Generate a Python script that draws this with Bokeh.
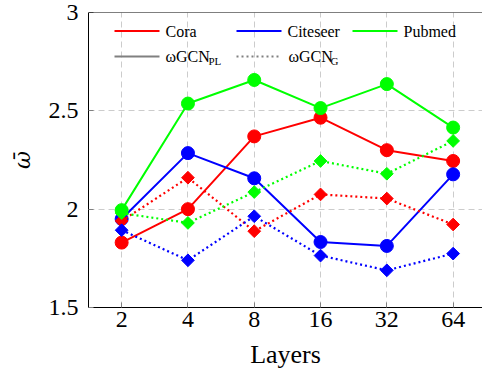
import numpy as np
from bokeh.plotting import figure
from bokeh.models import (Range1d, FixedTicker, NumeralTickFormatter, Span,
                          Label, Arrow)
from bokeh.embed import file_html
from bokeh.resources import INLINE

# ---- data ----
layers = [2, 4, 8, 16, 32, 64]
y_ticks = [1.5, 2, 2.5, 3]

cora_pl = [1.83, 2.00, 2.37, 2.465, 2.30, 2.245]
citeseer_pl = [1.95, 2.285, 2.157, 1.833, 1.813, 2.177]
pubmed_pl = [1.995, 2.537, 2.657, 2.514, 2.636, 2.415]

cora_g = [1.94, 2.16, 1.888, 2.075, 2.054, 1.922]
citeseer_g = [1.893, 1.74, 1.964, 1.764, 1.689, 1.774]
pubmed_g = [1.98, 1.93, 2.087, 2.245, 2.18, 2.347]

datasets = ["Cora", "Citeseer", "Pubmed"]
colors = ["#ff0000", "#0000ff", "#00ff00"]

FONT = "Liberation Serif"

p = figure(width=482, height=377, output_backend="svg", toolbar_location=None,
           x_axis_type="log", x_range=Range1d(2 ** 0.5, 2 ** 6.443),
           y_range=Range1d(1.5, 3),
           min_border_left=88, min_border_right=0, min_border_top=12,
           min_border_bottom=70, outline_line_color=None)

# axes
for ax in (p.xaxis[0], p.yaxis[0]):
    ax.axis_line_color = "black"
    ax.major_tick_in = 5
    ax.major_tick_out = 0
    ax.major_tick_line_color = "#808080"
    ax.minor_tick_line_color = None
    ax.major_label_text_font = FONT
    ax.axis_label_text_font = FONT
    ax.axis_label_text_font_style = "normal"
    ax.axis_label_text_color = "black"
    ax.major_label_text_color = "black"

p.xaxis.ticker = FixedTicker(ticks=layers)
p.xaxis.formatter = NumeralTickFormatter(format="0")
p.xaxis.major_label_text_font_size = "24px"
p.xaxis.major_label_standoff = 4
p.xaxis.axis_label = "Layers"
p.xaxis.axis_label_text_font_size = "26px"
p.xaxis.axis_label_standoff = 10

p.yaxis.ticker = FixedTicker(ticks=y_ticks)
p.yaxis.formatter = NumeralTickFormatter(format="0.[0]")
p.yaxis.major_label_text_font_size = "24px"
p.yaxis.major_label_standoff = 10
p.yaxis.axis_label = "ω\u0304"
p.yaxis.axis_label_text_font = "DejaVu Serif"
p.yaxis.axis_label_text_font_size = "22px"
p.yaxis.axis_label_text_font_style = "italic"
p.yaxis.axis_label_standoff = 11

# top frame line
p.add_layout(Span(location=y_ticks[-1], dimension="width", line_color="black",
                  line_width=1))

p.xgrid.grid_line_dash = "6 4"
p.ygrid.grid_line_dash = "6 4"
p.xgrid.grid_line_color = "#cccccc"
p.ygrid.grid_line_color = "#cccccc"

# series
for vals, c in zip([cora_pl, citeseer_pl, pubmed_pl], colors):
    p.line(layers, vals, line_color=c, line_width=2)
    p.scatter(layers, vals, marker="circle", size=13, fill_color=c, line_color=c)
for vals, c in zip([cora_g, citeseer_g, pubmed_g], colors):
    p.line(layers, vals, line_color=c, line_width=2.2, line_dash="2 3")
    p.scatter(layers, vals, marker="square", angle=np.pi / 4, size=9,
              fill_color=c, line_color=c)

# manual legend (screen units relative to plot frame, y from frame bottom)
def ly(y_from_top):
    return 295 - y_from_top

rows = [18.5, 44]
col_x = [26, 148, 264]
for i, (name, c) in enumerate(zip(datasets, colors)):
    x0 = col_x[i]
    p.add_layout(Arrow(x_start=x0, y_start=ly(rows[0]), x_end=x0 + 45, y_end=ly(rows[0]),
                       start_units="screen", end_units="screen", end=None,
                       line_color=c, line_width=2))
    p.add_layout(Label(x=x0 + 51, y=ly(rows[0]), x_units="screen", y_units="screen",
                       text=name, text_font=FONT, text_font_size="16px",
                       text_baseline="middle", text_color="black"))

p.add_layout(Arrow(x_start=col_x[0], y_start=ly(rows[1]), x_end=col_x[0] + 45, y_end=ly(rows[1]),
                   start_units="screen", end_units="screen", end=None,
                   line_color="#808080", line_width=2))
p.add_layout(Arrow(x_start=col_x[1], y_start=ly(rows[1]), x_end=col_x[1] + 45, y_end=ly(rows[1]),
                   start_units="screen", end_units="screen", end=None,
                   line_color="#808080", line_width=2, line_dash="2 3"))
for x0, main, sub, subx in [(col_x[0] + 51, "ωGCN", "PL", 120), (col_x[1] + 52, "ωGCN", "G", 242)]:
    p.add_layout(Label(x=x0, y=ly(rows[1]), x_units="screen", y_units="screen",
                       text=main, text_font=FONT, text_font_size="16px",
                       text_baseline="middle", text_color="black"))
    p.add_layout(Label(x=subx, y=ly(rows[1] + 4.5), x_units="screen", y_units="screen",
                       text=sub, text_font=FONT, text_font_size="11px",
                       text_baseline="middle", text_color="black"))

open("out.html", "w").write(file_html(p, INLINE))
